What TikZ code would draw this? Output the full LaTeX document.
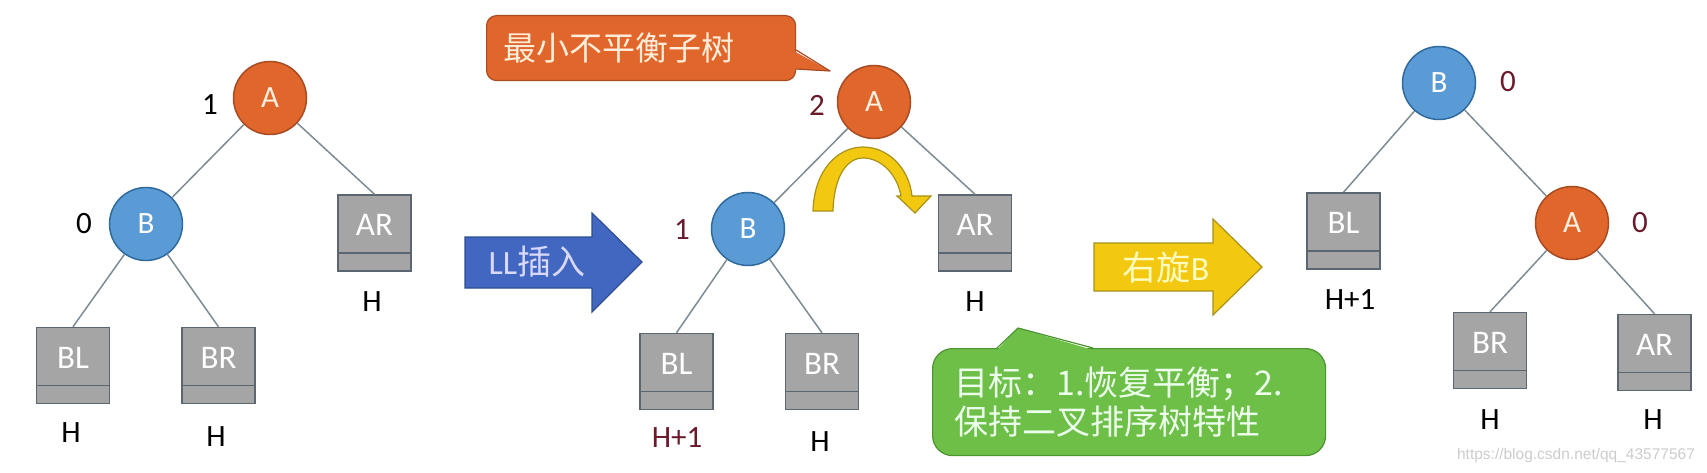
\documentclass[tikz,border=0pt]{standalone}
\usepackage{fontspec}
\setmainfont{Carlito}
\newfontfamily\cjk{Noto Sans CJK SC}
\newfontfamily\wmfont{Liberation Sans}
\definecolor{orng}{HTML}{E0662C}
\definecolor{orngedge}{HTML}{A84B22}
\definecolor{bluec}{HTML}{5B9BD5}
\definecolor{bluecedge}{HTML}{2F6A9E}
\definecolor{boxg}{HTML}{A5A5A5}
\definecolor{boxedge}{HTML}{5B6670}
\definecolor{edgec}{HTML}{7D8B93}
\definecolor{dred}{HTML}{6B1A2B}
\definecolor{arrblue}{HTML}{4267C0}
\definecolor{arrblueedge}{HTML}{2E4E93}
\definecolor{yel}{HTML}{F2C811}
\definecolor{yeledge}{HTML}{A8921A}
\definecolor{grn}{HTML}{6DBF47}
\definecolor{grnedge}{HTML}{4C9430}
\begin{document}
\begin{tikzpicture}[x=1pt,y=-1pt,
  anode/.style={circle, draw=orngedge, fill=orng, line width=1.5pt, minimum size=73pt, inner sep=0pt, text=white!88!orange, font=\fontsize{31}{31}\selectfont},
  bnode/.style={circle, draw=bluecedge, fill=bluec, line width=1.5pt, minimum size=73pt, inner sep=0pt, text=white, font=\fontsize{31}{31}\selectfont},
  sub/.style={draw=boxedge, fill=boxg, line width=1.5pt, minimum width=73pt, minimum height=76pt, inner sep=0pt},
  boxtxt/.style={text=white, font=\fontsize{33}{33}\selectfont, yshift=8pt},
  divider/.style={draw=boxedge, line width=1.5pt},
  edge/.style={draw=edgec, line width=1.5pt},
  lab/.style={font=\fontsize{31}{31}\selectfont, text=black, inner sep=0pt},
  rlab/.style={lab, text=dred},
  arrtxt/.style={font=\fontsize{34}{34}\selectfont, inner sep=0pt}
]
\useasboundingbox (0,0) rectangle (1707,473);

% ---------- left tree ----------
\node[anode] (A1) at (270,98) {A};
\node[bnode] (B1) at (146,224) {B};
\node[sub, label={[boxtxt]center:AR}] (AR1) at (374.5,233) {};
\node[sub, label={[boxtxt]center:BL}] (BL1) at (73,365.5) {};
\node[sub, label={[boxtxt]center:BR}] (BR1) at (218.5,365.5) {};
\node[lab] (bf1) at (210,105) {1};
\node[lab] (bf2) at (84,224) {0};
\node[lab] (h1) at (372,302) {H};
\node[lab] (h2) at (71,433) {H};
\node[lab] (h3) at (216,437) {H};
\draw[edge] (A1) -- (B1);
\draw[edge] (A1) -- (AR1.north);
\draw[edge] (B1) -- (BL1.north);
\draw[edge] (B1) -- (BR1.north);

% ---------- blue arrow ----------
\filldraw[fill=arrblue, draw=arrblueedge, line width=1.2pt]
  (465,237) -- (592,237) -- (592,213) -- (642,262) -- (592,312) -- (592,288) -- (465,288) -- cycle;
\node[arrtxt, text=white!85!blue] (ll) at (537,262) {LL{\cjk 插入}};

% ---------- middle tree ----------
\node[anode] (A2) at (874,102) {A};
\node[bnode] (B2) at (748,229) {B};
\node[sub, label={[boxtxt]center:AR}] (AR2) at (975,233) {};
\node[sub, label={[boxtxt]center:BL}] (BL2) at (676.5,371.5) {};
\node[sub, label={[boxtxt]center:BR}] (BR2) at (822,371.5) {};
\node[rlab] (bf3) at (817,105) {2};
\node[rlab] (bf4) at (682,230) {1};
\node[lab] (h4) at (975,302) {H};
\node[rlab] (h5) at (677,438) {H+1};
\node[lab] (h6) at (820,442) {H};
\draw[edge] (A2) -- (B2);
\draw[edge] (A2) -- (AR2.north);
\draw[edge] (B2) -- (BL2.north);
\draw[edge] (B2) -- (BR2.north);

% curved rotation arrow
\filldraw[fill=yel, draw=yeledge, line width=1.2pt]
  (813,211) .. controls (814,170) and (838,147) .. (863,147)
  .. controls (888,147) and (909,168) .. (912,196)
  -- (931,196) -- (915,213) -- (897,196) -- (901,196)
  .. controls (897,174) and (881,158) .. (863,158)
  .. controls (847,158) and (834,176) .. (833,211) -- cycle;

% orange callout
\node[draw=orngedge, fill=orng, line width=1.2pt, rounded corners=10pt, minimum height=65pt,
      text width=275pt, inner xsep=17pt, inner ysep=0pt, align=left, anchor=north west,
      text=white!85!orange, font=\cjk\fontsize{33}{33}\selectfont] (cal1) at (486,15) {最小不平衡子树};
\coordinate (ptr1) at (830,71);
\fill[orng] (792,50) -- (ptr1) -- (792,69) -- cycle;
\draw[orngedge, line width=1.2pt, line join=round] (cal1.east |- 0,50) -- (ptr1) -- (cal1.east |- 0,69);

% ---------- yellow arrow ----------
\filldraw[fill=yel, draw=yeledge, line width=1.2pt]
  (1094,243) -- (1213,243) -- (1213,219) -- (1262,267) -- (1213,315) -- (1213,291) -- (1094,291) -- cycle;
\node[arrtxt, text=yellow!25!white] (rot) at (1166,268) {{\cjk 右旋}B};

% green callout
\node[draw=grnedge, fill=grn, line width=1.2pt, rounded corners=20pt, minimum height=107pt,
      text width=349pt, inner xsep=22pt, inner ysep=0pt, align=left, anchor=north west,
      text=green!8!white, font=\cjk\fontsize{34}{39}\selectfont] (cal2) at (932,348)
      {目标：1.恢复平衡；2.\\保持二叉排序树特性};
\coordinate (ptr2) at (1018,328);
\fill[grn] (997,350) -- (ptr2) -- (1093,350) -- cycle;
\draw[grnedge, line width=1.2pt, line join=round] (997,348) -- (ptr2) -- (1093,348);

% ---------- right tree ----------
\node[bnode] (B3) at (1439,83) {B};
\node[anode] (A3) at (1572,223) {A};
\node[sub, label={[boxtxt]center:BL}] (BL3) at (1343.5,231) {};
\node[sub, label={[boxtxt]center:BR}] (BR3) at (1490,350.5) {};
\node[sub, label={[boxtxt]center:AR}] (AR3) at (1654.5,352.5) {};
\node[rlab] (bf5) at (1508,82) {0};
\node[rlab] (bf6) at (1640,223) {0};
\node[lab] (h7) at (1350,300) {H+1};
\node[lab] (h8) at (1490,420) {H};
\node[lab] (h9) at (1653,420) {H};
\draw[edge] (B3) -- (BL3.north);
\draw[edge] (B3) -- (A3);
\draw[edge] (A3) -- (BR3.north);
\draw[edge] (A3) -- (AR3.north);

% dividers in subtree boxes
\foreach \n in {AR1,BL1,BR1,AR2,BL2,BR2,BL3,BR3,AR3}
  \draw[divider] ([yshift=19pt]\n.south west) -- ([yshift=19pt]\n.south east);

% watermark
\node[text=gray!40, font=\wmfont\fontsize{15.5}{15.5}\selectfont, inner sep=0pt] (wm) at (1576,455) {https://blog.csdn.net/qq\_43577567};
\end{tikzpicture}
\end{document}
